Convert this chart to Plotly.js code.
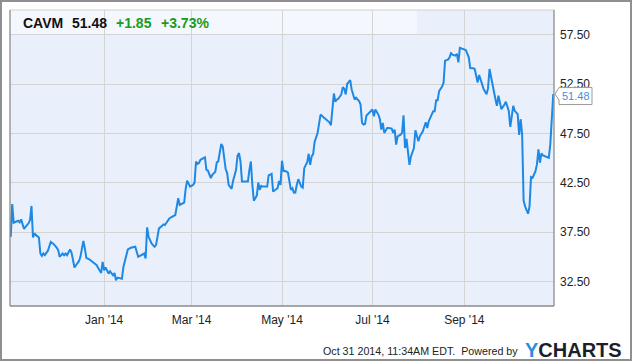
<!DOCTYPE html>
<html>
<head>
<meta charset="utf-8">
<script src="https://cdn.plot.ly/plotly-3.0.1.min.js"></script>
<style>
  html, body { margin: 0; padding: 0; background: #fff; }
  #wrap { position: relative; width: 635px; height: 362px; }
  #chart { width: 635px; height: 362px; }
  #frame { position: absolute; left: 0; top: 0; width: 632px; height: 361px;
           box-sizing: border-box; border: 2px solid #8f8f8f; pointer-events: none; }
</style>
</head>
<body>
<div id="wrap"><div id="chart"></div><div id="frame"></div></div>
<script>
// CAVM daily closing price, Oct 2013 - Oct 2014
const ticker = 'CAVM';
const change = '+1.85';
const changePct = '+3.73%';
const stamp = 'Oct 31 2014, 11:34AM EDT.  Powered by';

const tickDates = ['2014-01-01', '2014-03-01', '2014-05-01', '2014-07-01', '2014-09-01'];
const tickLabels = ["Jan '14", "Mar '14", "May '14", "Jul '14", "Sep '14"];

const dates = [
  '2013-10-30','2013-10-31','2013-11-01','2013-11-03','2013-11-04','2013-11-05','2013-11-06','2013-11-07','2013-11-08','2013-11-09',
  '2013-11-11','2013-11-12','2013-11-13','2013-11-14','2013-11-15','2013-11-16','2013-11-18','2013-11-19','2013-11-20','2013-11-21',
  '2013-11-22','2013-11-23','2013-11-24','2013-11-26','2013-11-28','2013-11-30','2013-12-01','2013-12-02','2013-12-04','2013-12-05',
  '2013-12-06','2013-12-07','2013-12-08','2013-12-09','2013-12-10','2013-12-12','2013-12-13','2013-12-15','2013-12-16','2013-12-17',
  '2013-12-18','2013-12-19','2013-12-20','2013-12-22','2013-12-24','2013-12-26','2013-12-27','2013-12-28','2013-12-30','2013-12-31',
  '2014-01-01','2014-01-02','2014-01-03','2014-01-04','2014-01-05','2014-01-07','2014-01-08','2014-01-09','2014-01-10','2014-01-13',
  '2014-01-14','2014-01-16','2014-01-17','2014-01-19','2014-01-22','2014-01-24','2014-01-26','2014-01-28','2014-01-29','2014-01-30',
  '2014-01-31','2014-02-02','2014-02-04','2014-02-05','2014-02-06','2014-02-07','2014-02-09','2014-02-10','2014-02-11','2014-02-13',
  '2014-02-14','2014-02-16','2014-02-18','2014-02-19','2014-02-20','2014-02-21','2014-02-23','2014-02-24','2014-02-25','2014-02-26',
  '2014-02-28','2014-03-02','2014-03-03','2014-03-04','2014-03-05','2014-03-06','2014-03-07','2014-03-09','2014-03-10','2014-03-11',
  '2014-03-12','2014-03-14','2014-03-15','2014-03-17','2014-03-18','2014-03-19','2014-03-21','2014-03-22','2014-03-23','2014-03-24',
  '2014-03-25','2014-03-26','2014-03-28','2014-03-29','2014-03-31','2014-04-01','2014-04-02','2014-04-03','2014-04-04','2014-04-06',
  '2014-04-08','2014-04-09','2014-04-10','2014-04-11','2014-04-12','2014-04-13','2014-04-14','2014-04-15','2014-04-16','2014-04-17',
  '2014-04-18','2014-04-20','2014-04-21','2014-04-22','2014-04-24','2014-04-25','2014-04-27','2014-04-28','2014-04-29','2014-04-30',
  '2014-05-01','2014-05-02','2014-05-04','2014-05-05','2014-05-07','2014-05-08','2014-05-09','2014-05-10','2014-05-11','2014-05-12',
  '2014-05-14','2014-05-15','2014-05-16','2014-05-18','2014-05-19','2014-05-20','2014-05-21','2014-05-22','2014-05-23','2014-05-25',
  '2014-05-26','2014-05-27','2014-05-29','2014-05-31','2014-06-02','2014-06-03','2014-06-05','2014-06-06','2014-06-07','2014-06-08',
  '2014-06-10','2014-06-11','2014-06-12','2014-06-13','2014-06-14','2014-06-15','2014-06-16','2014-06-17','2014-06-19','2014-06-20',
  '2014-06-22','2014-06-23','2014-06-24','2014-06-25','2014-06-26','2014-06-27','2014-06-29','2014-06-30','2014-07-01','2014-07-02',
  '2014-07-03','2014-07-05','2014-07-06','2014-07-07','2014-07-08','2014-07-09','2014-07-11','2014-07-12','2014-07-14','2014-07-15',
  '2014-07-16','2014-07-17','2014-07-18','2014-07-20','2014-07-21','2014-07-22','2014-07-23','2014-07-24','2014-07-26','2014-07-27',
  '2014-07-29','2014-07-30','2014-08-01','2014-08-02','2014-08-04','2014-08-06','2014-08-07','2014-08-08','2014-08-10','2014-08-11',
  '2014-08-12','2014-08-13','2014-08-14','2014-08-15','2014-08-17','2014-08-18','2014-08-19','2014-08-21','2014-08-22','2014-08-23',
  '2014-08-24','2014-08-26','2014-08-27','2014-08-28','2014-08-29','2014-08-31','2014-09-02','2014-09-04','2014-09-05','2014-09-07',
  '2014-09-08','2014-09-10','2014-09-11','2014-09-13','2014-09-14','2014-09-16','2014-09-17','2014-09-18','2014-09-20','2014-09-21',
  '2014-09-22','2014-09-23','2014-09-24','2014-09-26','2014-09-27','2014-09-28','2014-09-29','2014-10-01','2014-10-02','2014-10-03',
  '2014-10-04','2014-10-05','2014-10-07','2014-10-08','2014-10-09','2014-10-10','2014-10-11','2014-10-12','2014-10-14','2014-10-15',
  '2014-10-16','2014-10-17','2014-10-19','2014-10-20','2014-10-21','2014-10-22','2014-10-23','2014-10-24','2014-10-26','2014-10-28',
  '2014-10-29','2014-10-30','2014-10-31'
];

const prices = [
  37.00,40.34,38.44,38.54,38.64,38.48,38.78,38.27,37.80,38.03,
  38.38,38.71,40.14,36.95,37.36,37.18,36.95,35.32,35.08,35.32,
  35.15,35.38,35.58,36.50,36.27,35.93,35.66,34.98,35.32,35.15,
  35.32,35.15,35.49,35.73,35.42,33.90,34.13,34.54,34.98,36.00,
  36.60,35.83,34.88,34.74,34.47,34.23,34.13,33.86,33.35,34.47,
  33.62,33.90,33.62,33.28,33.52,33.11,33.35,32.60,32.88,32.76,
  33.96,34.98,35.73,35.90,36.00,34.98,35.15,35.32,34.81,37.97,
  37.01,36.34,36.00,36.17,37.01,37.87,38.10,38.27,38.20,38.61,
  38.88,39.05,39.22,40.07,40.92,40.24,40.34,40.47,41.84,42.71,
  42.10,42.27,42.51,44.65,44.41,44.49,44.82,44.95,45.06,43.80,
  43.73,42.96,43.30,43.60,44.55,44.65,46.42,46.18,45.23,43.88,
  43.47,42.28,41.87,42.68,43.80,45.23,45.50,44.65,42.61,42.61,
  42.61,43.80,44.65,42.28,40.68,40.92,41.19,42.51,41.77,42.17,
  42.10,42.10,42.10,43.23,43.40,41.60,41.77,41.94,42.68,42.28,
  44.72,43.70,43.63,43.53,41.77,41.94,41.49,41.50,42.28,42.85,
  42.10,42.00,43.97,44.58,45.43,44.31,45.16,45.40,46.62,47.54,
  48.45,49.40,49.13,48.90,48.62,48.32,51.54,50.70,50.93,51.00,
  51.44,52.18,52.02,51.44,52.53,52.69,52.90,51.95,50.93,51.10,
  50.76,50.42,48.56,48.39,48.45,49.30,49.58,49.74,49.91,49.23,
  49.91,49.40,48.97,47.88,48.56,47.54,48.05,48.05,47.98,47.54,
  47.88,46.35,47.20,47.37,47.54,49.33,46.01,46.93,44.31,45.16,
  46.01,47.81,46.69,47.20,47.71,48.62,48.05,48.73,49.40,49.74,
  49.74,50.86,50.86,51.78,52.23,52.63,54.87,54.97,55.18,55.62,
  55.48,55.38,55.55,54.70,56.16,56.06,55.95,55.21,54.12,54.09,
  54.02,52.66,53.41,52.49,51.98,51.47,52.08,54.02,52.33,51.64,
  50.96,50.29,51.31,49.95,50.12,50.39,50.70,49.78,48.15,49.44,
  50.29,49.78,49.44,47.34,48.93,47.40,40.68,40.10,39.35,40.10,
  43.06,42.99,43.67,44.35,45.87,44.52,45.47,45.26,45.13,45.02,
  46.38,49.10,51.48
];

const lastPrice = prices[prices.length - 1];

const FONT = 'Liberation Sans, Arial, sans-serif';
const LINE_BLUE = '#1e88e5';
const GREEN = '#1a9b1a';
const GRID = '#d4d4d4';
const EDGE = '#8c8c8c';

// text annotation with no arrow; positions are pixel shifts from a paper anchor
function ann(text, opts) {
  return Object.assign({ text: text, showarrow: false, borderpad: 0 }, opts);
}

const trace = {
  x: dates,
  y: prices,
  type: 'scatter',
  mode: 'lines',
  line: { color: LINE_BLUE, width: 2 },
  hoverinfo: 'skip'
};

const layout = {
  width: 635,
  height: 362,
  margin: { l: 10, r: 81, t: 10, b: 56 },
  paper_bgcolor: '#ffffff',
  plot_bgcolor: '#e9f0fc',
  showlegend: false,
  font: { family: FONT, size: 12, color: '#222' },
  xaxis: {
    type: 'date',
    range: ['2013-10-29 12:00', '2014-10-31 12:00'],
    tickmode: 'array',
    tickvals: tickDates,
    ticktext: tickLabels,
    showgrid: true,
    gridcolor: GRID,
    gridwidth: 1,
    zeroline: false,
    showline: false,
    ticks: '',
    ticklabelstandoff: 5,
    tickfont: { family: FONT, size: 12, color: '#222' },
    fixedrange: true
  },
  yaxis: {
    side: 'right',
    range: [30, 60],
    tickmode: 'linear',
    tick0: 32.5,
    dtick: 5,
    tickformat: '.2f',
    showgrid: true,
    gridcolor: GRID,
    gridwidth: 1,
    zeroline: false,
    showline: false,
    ticks: '',
    ticklabelstandoff: 5,
    tickfont: { family: FONT, size: 12, color: '#222' },
    fixedrange: true
  },
  shapes: [
    // pale header band behind the quote line
    { type: 'rect', xref: 'paper', yref: 'paper', x0: 0, x1: 0.748, y0: 0.9155, y1: 1,
      fillcolor: '#f4f7fd', line: { width: 0 }, layer: 'below' },
    // plot frame: light top edge, darker left / right / bottom edges
    { type: 'line', xref: 'paper', yref: 'paper', x0: 0, x1: 1, y0: 1, y1: 1,
      line: { color: '#cfcfcf', width: 1 } },
    { type: 'line', xref: 'paper', yref: 'paper', x0: 0, x1: 0, y0: 0, y1: 1,
      line: { color: EDGE, width: 1.3 } },
    { type: 'line', xref: 'paper', yref: 'paper', x0: 1, x1: 1, y0: 0, y1: 1,
      line: { color: EDGE, width: 1.3 } },
    { type: 'line', xref: 'paper', yref: 'paper', x0: 0, x1: 1, y0: 0, y1: 0,
      line: { color: EDGE, width: 1.3 } },
    // callout box pointing at the last close
    { type: 'path', xref: 'paper', yref: 'y', xsizemode: 'pixel', ysizemode: 'pixel',
      xanchor: 1, yanchor: lastPrice,
      path: 'M 1 0 L 5 6.5 L 38 6.5 L 38 -10.5 L 5 -10.5 L 5 -6 Z',
      fillcolor: '#ffffff', line: { color: '#9a9a9a', width: 1 }, layer: 'above' }
  ],
  annotations: [
    // quote header
    ann('<b>' + ticker + '</b>', { xref: 'paper', yref: 'paper', x: 0, y: 1, xanchor: 'left', yanchor: 'middle',
      xshift: 11.5, yshift: -13, font: { family: FONT, size: 14, color: '#111' } }),
    ann('<b>' + lastPrice.toFixed(2) + '</b>', { xref: 'paper', yref: 'paper', x: 0, y: 1, xanchor: 'left', yanchor: 'middle',
      xshift: 60.5, yshift: -13, font: { family: FONT, size: 14, color: '#111' } }),
    ann('<b>' + change + '</b>', { xref: 'paper', yref: 'paper', x: 0, y: 1, xanchor: 'left', yanchor: 'middle',
      xshift: 105, yshift: -13, font: { family: FONT, size: 14, color: GREEN } }),
    ann('<b>' + changePct + '</b>', { xref: 'paper', yref: 'paper', x: 0, y: 1, xanchor: 'left', yanchor: 'middle',
      xshift: 150, yshift: -13, font: { family: FONT, size: 14, color: GREEN } }),
    // last value label
    ann(lastPrice.toFixed(2), { xref: 'paper', yref: 'y', x: 1, y: lastPrice, xanchor: 'center', yanchor: 'middle',
      xshift: 21.5, yshift: -1.5, font: { family: FONT, size: 11, color: '#3f90e0' } }),
    // footer stamp and brand
    ann(stamp, { xref: 'paper', yref: 'paper', x: 1, y: 0, xanchor: 'right', yanchor: 'middle',
      xshift: -34.6, yshift: -44.6, font: { family: FONT, size: 10.7, color: '#222' } }),
    ann('<b><span style="color:#2a8de3">Y</span>CHARTS</b>', { xref: 'paper', yref: 'paper', x: 1, y: 0,
      xanchor: 'left', yanchor: 'middle', xshift: -30, yshift: -44.2,
      font: { family: FONT, size: 20, color: '#1b1f2a' } })
  ]
};

Plotly.newPlot('chart', [trace], layout, { displayModeBar: false, staticPlot: true });
</script>
</body>
</html>
